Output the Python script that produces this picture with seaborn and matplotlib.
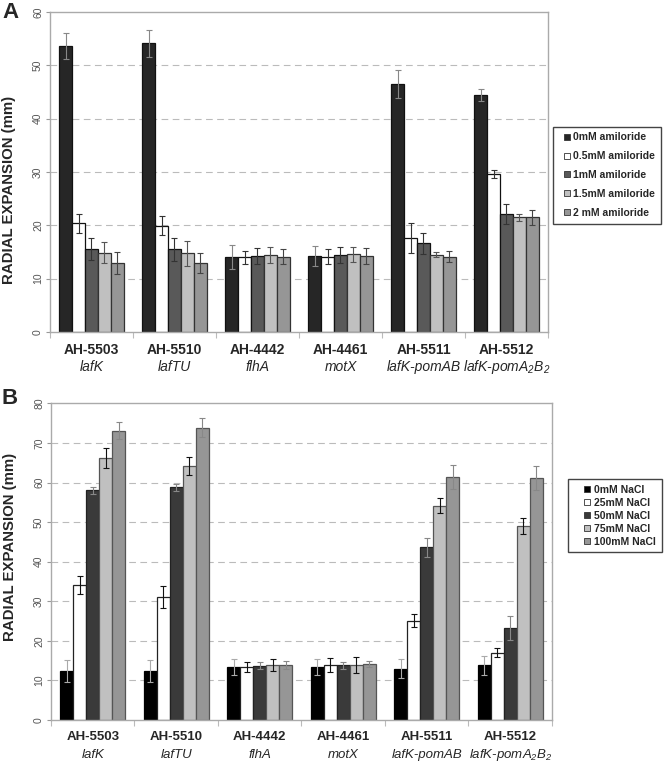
import pandas as pd
import seaborn as sns
import matplotlib.pyplot as plt
from matplotlib.lines import Line2D

strains = ['AH-5503', 'AH-5510', 'AH-4442', 'AH-4461', 'AH-5511', 'AH-5512']
genes = ['lafK', 'lafTU', 'flhA', 'motX', 'lafK-pomAB', r'lafK-pomA$_2$B$_2$']

# panel A - amiloride
amil_levels = ['0mM amiloride', '0.5mM amiloride', '1mM amiloride', '1.5mM amiloride', '2 mM amiloride']
amil_0 = [53.6, 54.1, 14.1, 14.25, 46.5, 44.5]
amil_05 = [20.4, 19.9, 14.0, 14.1, 17.6, 29.6]
amil_1 = [15.6, 15.5, 14.3, 14.4, 16.6, 22.1]
amil_15 = [14.9, 14.75, 14.4, 14.6, 14.5, 21.5]
amil_2 = [12.9, 12.9, 14.1, 14.25, 14.1, 21.5]
amil_0_err = [2.5, 2.5, 2.3, 1.8, 2.7, 1.1]
amil_05_err = [1.8, 1.8, 1.2, 1.4, 2.8, 0.8]
amil_1_err = [2.1, 2.2, 1.5, 1.5, 1.9, 1.9]
amil_15_err = [2.0, 2.4, 1.5, 1.4, 0.5, 0.7]
amil_2_err = [2.1, 1.9, 1.4, 1.5, 1.0, 1.4]

# panel B - NaCl
nacl_levels = ['0mM NaCl', '25mM NaCl', '50mM NaCl', '75mM NaCl', '100mM NaCl']
nacl_0 = [12.4, 12.4, 13.3, 13.3, 13.0, 13.8]
nacl_25 = [34.1, 31.1, 13.4, 13.9, 25.1, 17.0]
nacl_50 = [58.1, 58.8, 13.7, 13.8, 43.6, 23.3]
nacl_75 = [66.2, 64.1, 13.9, 13.9, 54.1, 49.1]
nacl_100 = [73.1, 73.9, 13.9, 14.2, 61.4, 61.2]
nacl_0_err = [2.7, 2.7, 2.0, 2.0, 2.4, 2.4]
nacl_25_err = [2.2, 2.8, 1.2, 1.8, 1.6, 1.1]
nacl_50_err = [0.9, 0.9, 0.9, 0.9, 2.4, 3.0]
nacl_75_err = [2.5, 2.3, 1.4, 2.0, 1.9, 2.0]
nacl_100_err = [2.2, 2.4, 0.9, 0.7, 3.1, 3.1]

sns.set_style('white')
plt.rcParams['font.family'] = ['Liberation Sans', 'DejaVu Sans']
plt.rcParams['mathtext.fontset'] = 'custom'
plt.rcParams['mathtext.rm'] = 'Liberation Sans:italic'
plt.rcParams['mathtext.it'] = 'Liberation Sans:italic'


def long_table(levels, values):
    rows = []
    for lvl, vals in zip(levels, values):
        for s, v in zip(strains, vals):
            rows.append({'strain': s, 'cond': lvl, 'value': v})
    return pd.DataFrame(rows)


def draw_panel(ax, levels, values, errs, colors, edges, ecolors, ymax,
               label_y, legend_pos, leg_size, leg_space, hlen, hpad, lab_size):
    df = long_table(levels, values)
    sns.barplot(data=df, x='strain', y='value', hue='cond', order=strains,
                hue_order=levels, palette=colors, width=0.775, gap=0,
                errorbar=None, legend=False, ax=ax)
    for cont, err, ec, ecol in zip(ax.containers, errs, edges, ecolors):
        xs = []
        ys = []
        for p in cont.patches:
            p.set_edgecolor(ec)
            p.set_linewidth(0.9)
            xs.append(p.get_x() + p.get_width() / 2)
            ys.append(p.get_height())
        ax.errorbar(xs, ys, yerr=err, fmt='none', ecolor=ecol,
                    elinewidth=0.8, capsize=2.3, capthick=0.8, zorder=5)

    ax.set_ylim(0, ymax)
    ax.set_xlim(-0.5, 5.5)
    ax.set_yticks(range(0, ymax + 1, 10))
    ax.tick_params(axis='y', labelsize=7.5, labelcolor='#555555', labelrotation=90,
                   left=True, length=3, color='#999999', pad=2)
    for t in ax.get_yticklabels():
        t.set_va('center')
    for g in range(10, ymax, 10):
        ax.axhline(g, color='#bbbbbb', lw=0.8, ls=(0, (6, 4)), zorder=0)
    ax.set_xticks([i - 0.5 for i in range(7)])
    ax.set_xticklabels([])
    ax.tick_params(axis='x', bottom=True, length=4, color='#bbbbbb')
    for sp in ax.spines.values():
        sp.set_color('#aaaaaa')
        sp.set_linewidth(1.0)
    ax.set_xlabel('')
    ax.set_ylabel('RADIAL EXPANSION (mm)', fontsize=10.8, fontweight='bold',
                  family=['Liberation Sans Narrow', 'Liberation Sans'])
    ax.yaxis.set_label_coords(-0.068, label_y)

    trans = ax.get_xaxis_transform()
    for i, (s, g) in enumerate(zip(strains, genes)):
        ax.text(i, -0.055, s, transform=trans, ha='center', va='center',
                fontsize=lab_size, fontweight='bold')
        ax.text(i, -0.11, g, transform=trans, ha='center', va='center',
                fontsize=lab_size, fontstyle='italic')

    handles = [Line2D([], [], ls='none', marker='s', markersize=5,
                      markerfacecolor=c, markeredgecolor='#333333',
                      markeredgewidth=0.6) for c in colors]
    fig.legend(handles, levels, loc='upper left', bbox_to_anchor=legend_pos,
               borderaxespad=0, fancybox=False, edgecolor='#444444', framealpha=1,
               handlelength=hlen, handletextpad=hpad,
               labelspacing=leg_space, borderpad=0.55,
               prop={'size': leg_size, 'weight': 'bold'})


fig = plt.figure(figsize=(6.64, 7.63), dpi=100)
axA = fig.add_axes([0.0753, 0.5649, 0.7500, 0.4194])
axB = fig.add_axes([0.0768, 0.0564, 0.7545, 0.4148])

draw_panel(axA, amil_levels,
           [amil_0, amil_05, amil_1, amil_15, amil_2],
           [amil_0_err, amil_05_err, amil_1_err, amil_15_err, amil_2_err],
           ['#262626', '#ffffff', '#595959', '#c0c0c0', '#969696'],
           ['#111111', '#111111', '#111111', '#333333', '#333333'],
           ['#888888', '#333333', '#333333', '#555555', '#444444'],
           60, 0.444, (0.833, 0.834), 7.5, 0.85, 1.5, -0.1, 10)

draw_panel(axB, nacl_levels,
           [nacl_0, nacl_25, nacl_50, nacl_75, nacl_100],
           [nacl_0_err, nacl_25_err, nacl_50_err, nacl_75_err, nacl_100_err],
           ['#000000', '#ffffff', '#3a3a3a', '#c0c0c0', '#969696'],
           ['#000000', '#222222', '#222222', '#555555', '#555555'],
           ['#aaaaaa', '#111111', '#888888', '#111111', '#888888'],
           80, 0.547, (0.855, 0.372), 7.5, 0.28, 2.6, -0.6, 9.5)

fig.text(0.003, 0.997, 'A', fontsize=16, fontweight='bold', va='top', ha='left')
fig.text(0.003, 0.492, 'B', fontsize=16, fontweight='bold', va='top', ha='left')

fig.savefig('out.png', dpi=100)
